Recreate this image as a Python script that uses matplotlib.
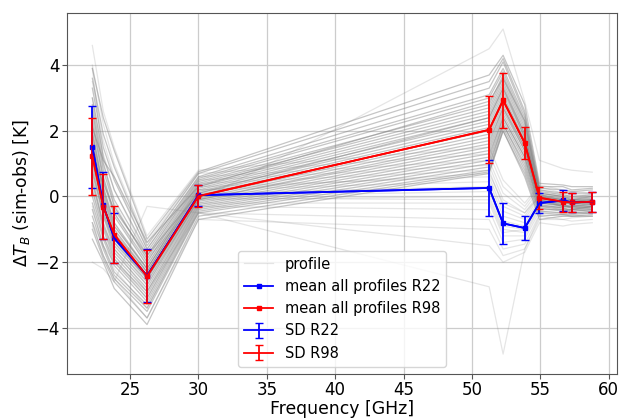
import numpy as np
import matplotlib
matplotlib.use("Agg")
import matplotlib.pyplot as plt

# Channel frequencies [GHz]
freqs = [22.24, 23.04, 23.84, 26.24, 30.0, 51.26, 52.28, 53.86, 54.94, 56.66, 57.30, 58.80]

# Mean brightness-temperature differences (sim - obs) [K]
mean_r22 = [1.51, -0.27, -1.27, -2.41, 0.04, 0.26, -0.82, -0.96, -0.20, -0.12, -0.18, -0.16]
mean_r98 = [1.23, -0.31, -1.16, -2.43, 0.01, 2.03, 2.93, 1.63, -0.04, -0.16, -0.18, -0.16]

# Standard deviations [K]
sd_r22 = [1.24, 1.02, 0.76, 0.81, 0.32, 0.86, 0.63, 0.36, 0.30, 0.31, 0.30, 0.30]
sd_r98 = [1.17, 1.00, 0.86, 0.81, 0.33, 1.02, 0.83, 0.50, 0.33, 0.30, 0.30, 0.30]

# Individual profiles, R98 set
profiles_r98 = [
    [3.9, 2.4, 1.4, -1.3, 0.75, 3.7, 4.3, 2.8, 0.4, 0.35, 0.3, 0.3],
    [3.6, 1.9, 0.9, -1.5, 0.7, 3.5, 4.2, 2.6, 0.3, 0.3, 0.2, 0.25],
    [3.3, 1.5, 0.5, -1.6, 0.6, 3.3, 4.1, 2.5, 0.25, 0.2, 0.15, 0.2],
    [3.0, 1.2, 0.2, -1.7, 0.55, 3.1, 3.9, 2.4, 0.2, 0.1, 0.1, 0.1],
    [2.8, 1.0, -0.1, -1.8, 0.5, 3.0, 3.8, 2.3, 0.15, 0.05, 0.0, 0.05],
    [2.6, 0.8, -0.3, -1.9, 0.45, 2.8, 3.7, 2.2, 0.1, 0.0, -0.05, 0.0],
    [2.4, 0.6, -0.5, -2.0, 0.4, 2.7, 3.6, 2.1, 0.05, -0.05, -0.1, -0.05],
    [2.2, 0.5, -0.6, -2.1, 0.35, 2.6, 3.5, 2.0, 0.0, -0.1, -0.1, -0.1],
    [2.0, 0.3, -0.8, -2.2, 0.3, 2.5, 3.4, 1.9, 0.05, -0.1, -0.15, -0.1],
    [1.9, 0.2, -0.9, -2.2, 0.25, 2.4, 3.3, 1.8, -0.05, -0.15, -0.2, -0.15],
    [1.7, 0.1, -1.0, -2.3, 0.2, 2.3, 3.2, 1.8, 0.0, -0.2, -0.2, -0.2],
    [1.6, 0.0, -1.1, -2.3, 0.15, 2.2, 3.1, 1.7, -0.1, -0.15, -0.25, -0.15],
    [1.4, -0.1, -1.2, -2.4, 0.1, 2.1, 3.0, 1.7, -0.05, -0.2, -0.2, -0.25],
    [1.3, -0.2, -1.3, -2.4, 0.05, 2.0, 3.0, 1.6, -0.1, -0.25, -0.3, -0.2],
    [1.1, -0.3, -1.3, -2.5, 0.0, 1.9, 2.9, 1.6, -0.15, -0.2, -0.25, -0.3],
    [1.0, -0.4, -1.4, -2.5, -0.05, 1.8, 2.8, 1.5, -0.1, -0.3, -0.3, -0.25],
    [0.8, -0.5, -1.5, -2.6, -0.1, 1.7, 2.7, 1.5, -0.2, -0.25, -0.35, -0.3],
    [0.7, -0.6, -1.6, -2.7, -0.1, 1.6, 2.7, 1.4, -0.15, -0.3, -0.3, -0.35],
    [0.5, -0.8, -1.7, -2.8, -0.15, 1.5, 2.6, 1.4, -0.25, -0.35, -0.4, -0.3],
    [0.4, -0.9, -1.8, -2.9, -0.2, 1.4, 2.5, 1.3, -0.2, -0.3, -0.35, -0.4],
    [0.2, -1.0, -1.9, -3.0, -0.25, 1.3, 2.4, 1.2, -0.3, -0.4, -0.4, -0.35],
    [0.0, -1.2, -2.0, -3.1, -0.3, 1.2, 2.4, 1.2, -0.3, -0.35, -0.45, -0.4],
    [-0.2, -1.3, -2.1, -3.2, -0.35, 1.1, 2.3, 1.1, -0.35, -0.45, -0.4, -0.45],
    [-0.4, -1.5, -2.3, -3.3, -0.4, 1.0, 2.2, 1.0, -0.4, -0.4, -0.5, -0.45],
    [-0.6, -1.6, -2.4, -3.4, -0.45, 0.9, 2.2, 0.9, -0.45, -0.5, -0.5, -0.5],
    [-0.8, -1.8, -2.5, -3.5, -0.5, 0.8, 2.1, 0.8, -0.5, -0.55, -0.55, -0.5],
    [-1.0, -1.9, -2.6, -3.7, -0.6, 0.75, 2.0, 0.7, -0.6, -0.55, -0.6, -0.55],
    [-1.3, -2.0, -2.8, -3.9, -0.7, 0.7, 2.0, 0.6, -0.7, -0.6, -0.6, -0.6],
    [2.1, 1.1, 0.6, -1.4, 0.3, 2.9, 3.6, 2.3, 0.1, 0.0, -0.1, 0.0],
    [1.2, 0.4, -0.4, -1.8, 0.1, 2.4, 3.3, 1.9, 0.0, -0.1, -0.15, -0.1],
]

# Individual profiles, R22 set
profiles_r22 = [
    [4.6, 2.6, 1.5, -1.2, 0.8, 1.5, 0.5, -0.2, 0.35, 0.2, 0.15, 0.1],
    [4.0, 2.2, 1.0, -1.4, 0.7, 1.3, 0.3, -0.3, 0.3, 0.1, 0.05, 0.05],
    [3.5, 1.7, 0.6, -1.6, 0.6, 1.1, 0.1, -0.4, 0.2, 0.05, 0.0, 0.0],
    [3.0, 1.3, 0.2, -1.8, 0.5, 0.95, -0.1, -0.5, 0.1, 0.0, -0.05, -0.05],
    [2.6, 0.9, -0.2, -2.0, 0.4, 0.8, -0.3, -0.6, 0.05, -0.05, -0.1, -0.1],
    [2.2, 0.6, -0.5, -2.1, 0.3, 0.6, -0.45, -0.7, 0.0, -0.1, -0.15, -0.15],
    [1.9, 0.3, -0.8, -2.3, 0.2, 0.45, -0.6, -0.8, -0.1, -0.15, -0.2, -0.2],
    [1.6, 0.0, -1.0, -2.4, 0.1, 0.3, -0.75, -0.9, -0.15, -0.2, -0.2, -0.25],
    [1.3, -0.3, -1.2, -2.5, 0.0, 0.15, -0.9, -1.0, -0.2, -0.25, -0.3, -0.3],
    [1.0, -0.6, -1.4, -2.7, -0.1, 0.0, -1.0, -1.1, -0.3, -0.3, -0.35, -0.3],
    [0.6, -0.9, -1.6, -2.9, -0.2, -0.2, -1.2, -1.2, -0.35, -0.4, -0.4, -0.4],
    [0.2, -1.2, -1.9, -3.1, -0.3, -0.4, -1.4, -1.3, -0.45, -0.5, -0.5, -0.5],
    [-0.3, -1.5, -2.2, -3.4, -0.5, -0.7, -1.6, -1.45, -0.55, -0.6, -0.6, -0.6],
    [-0.9, -1.8, -2.5, -3.7, -0.7, -1.0, -1.8, -1.6, -0.7, -0.7, -0.75, -0.7],
    [-2.0, -2.2, -2.6, -0.3, -0.5, -1.5, -2.0, -1.7, -0.8, -0.9, -0.85, -0.8],
    [3.9, 1.1, -0.3, -1.9, -0.13, 4.5, 5.1, 2.9, 1.1, 0.85, 0.8, 0.74],
    [-0.8, -1.5, -2.0, -2.9, -0.5, -2.75, -4.8, -1.6, -0.6, -0.7, -0.65, -0.6],
    [1.8, 0.2, -0.9, -2.2, 0.2, 0.7, -0.2, -0.5, 0.0, -0.1, -0.1, -0.15],
    [0.8, -0.5, -1.3, -2.6, -0.05, -0.1, -1.1, -1.0, -0.25, -0.35, -0.3, -0.35],
]

fig = plt.figure(figsize=(6.21, 4.2), dpi=100)
ax = fig.add_axes([0.1084, 0.11, 0.8856, 0.86])

for i, prof in enumerate(profiles_r22):
    ax.plot(freqs, prof, color="grey", alpha=0.2, lw=0.9,
            label="profile" if i == 0 else None, zorder=1)
for prof in profiles_r98:
    ax.plot(freqs, prof, color="grey", alpha=0.45, lw=0.9, zorder=1)

ax.plot(freqs, mean_r22, color="blue", marker="s", markersize=3.5, lw=1.3,
        label="mean all profiles R22", zorder=3)
ax.plot(freqs, mean_r98, color="red", marker="s", markersize=3.5, lw=1.3,
        label="mean all profiles R98", zorder=3)
ax.errorbar(freqs, mean_r22, yerr=sd_r22, color="blue", capsize=3, lw=1.3,
            label="SD R22", zorder=4)
ax.errorbar(freqs, mean_r98, yerr=sd_r98, color="red", capsize=3, lw=1.3,
            label="SD R98", zorder=4)

ax.set_xlim(20.41, 60.63)
ax.set_ylim(-5.4, 5.6)
ax.set_xticks([25, 30, 35, 40, 45, 50, 55, 60])
ax.set_yticks([-4, -2, 0, 2, 4])
ax.grid(True, color="#cccccc", lw=0.9)
ax.set_axisbelow(True)
for sp in ax.spines.values():
    sp.set_color("#555555")
ax.tick_params(labelsize=12.0, colors="#555555", labelcolor="black", pad=2.0)

ax.set_xlabel("Frequency [GHz]", fontsize=12.4, labelpad=0.5)
ax.set_ylabel(r"$\Delta T_B$ (sim-obs) [K]", fontsize=12.4, labelpad=2)

ax.legend(loc="lower center", fontsize=10.5, framealpha=0.8)

fig.savefig("out.png", dpi=100)
